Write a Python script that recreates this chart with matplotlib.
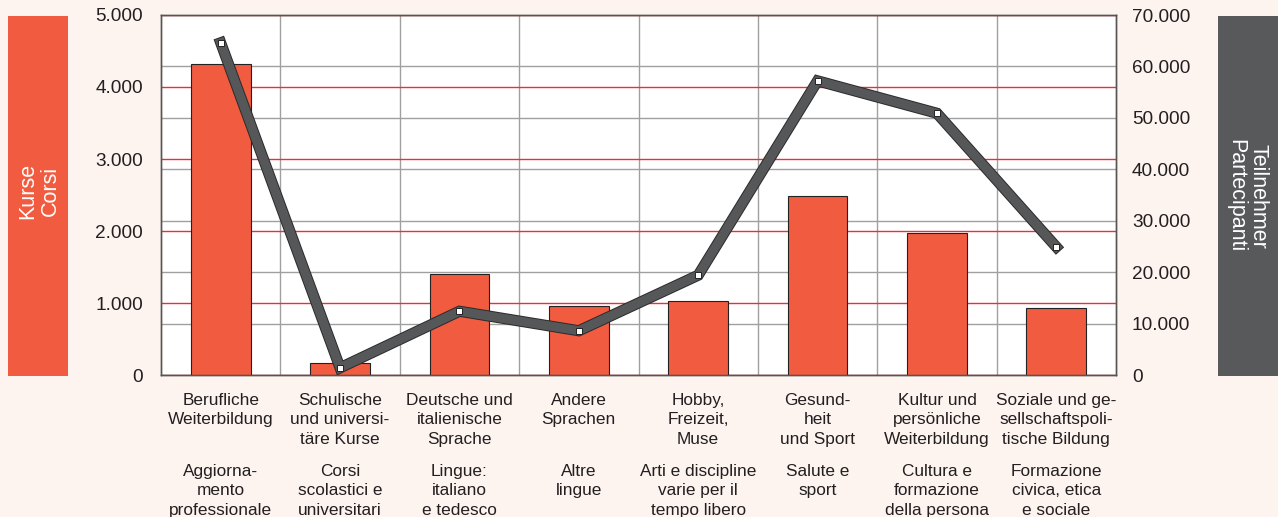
import matplotlib
matplotlib.use("Agg")
import matplotlib.pyplot as plt
import matplotlib.patheffects as pe
from matplotlib.patches import Rectangle
from matplotlib.ticker import MultipleLocator, FuncFormatter
import numpy as np

plt.rcParams["font.family"] = ["Liberation Sans", "DejaVu Sans"]

# ── data ────────────────────────────────────────────────────────────────────
labels_de = [
    "Berufliche\nWeiterbildung",
    "Schulische\nund universi-\ntäre Kurse",
    "Deutsche und\nitalienische\nSprache",
    "Andere\nSprachen",
    "Hobby,\nFreizeit,\nMuse",
    "Gesund-\nheit\nund Sport",
    "Kultur und\npersönliche\nWeiterbildung",
    "Soziale und ge-\nsellschaftspoli-\ntische Bildung",
]
labels_it = [
    "Aggiorna-\nmento\nprofessionale",
    "Corsi\nscolastici e\nuniversitari",
    "Lingue:\nitaliano\ne tedesco",
    "Altre\nlingue",
    "Arti e discipline\nvarie per il\ntempo libero",
    "Salute e\nsport",
    "Cultura e\nformazione\ndella persona",
    "Formazione\ncivica, etica\ne sociale",
]
kurse = [4320, 170, 1400, 960, 1030, 2490, 1970, 930]
teilnehmer = [64600, 1400, 12400, 8600, 19400, 57200, 50900, 24900]

BG = "#FDF4F0"
RED = "#F15B40"
DARK = "#58595B"
TXT = "#231F20"

fig = plt.figure(figsize=(12.78, 5.17), dpi=100, facecolor=BG)
ax = fig.add_axes([161 / 1278, 142 / 517, 955 / 1278, 360 / 517])
ax2 = ax.twinx()

x = np.arange(len(kurse))

# ── bars (left axis) ───────────────────────────────────────────────────────
ax.bar(x, kurse, width=0.5, color=RED, edgecolor="#222222", lw=0.8, zorder=3)
ax.set_xlim(-0.5, len(kurse) - 0.5)
ax.set_ylim(0, 5000)
ax.yaxis.set_major_locator(MultipleLocator(1000))
# grey grid belongs to the right axis (10.000 steps of 70.000)
ax.yaxis.set_minor_locator(MultipleLocator(5000 / 7))
ax.set_xticks(x)
ax.set_xticks(x[:-1] + 0.5, minor=True)
ax.set_xticklabels([])
ax.grid(which="minor", color="#A0A0A0", lw=1.0, zorder=0)
ax.grid(which="major", axis="y", color="#E8303A", lw=1.0, zorder=1)
ax.tick_params(axis="both", which="both", length=0)
ax.tick_params(axis="y", pad=13, labelsize=13.7, colors=TXT)
fmt = FuncFormatter(lambda v, p: f"{v:,.0f}".replace(",", "."))
ax.yaxis.set_major_formatter(fmt)
ax.set_facecolor("white")

# ── line (right axis) ──────────────────────────────────────────────────────
ax2.plot(x, teilnehmer, color="#555759", lw=6.6, solid_joinstyle="miter",
         path_effects=[pe.Stroke(linewidth=8, foreground="#2A2A2A"), pe.Normal()],
         zorder=5)
ax2.plot(x, teilnehmer, ls="none", marker="s", markersize=4.5,
         markerfacecolor="white", markeredgecolor="#222222",
         markeredgewidth=0.7, zorder=6)
ax2.set_ylim(0, 70000)
ax2.yaxis.set_major_locator(MultipleLocator(10000))
ax2.yaxis.set_major_formatter(fmt)
ax2.tick_params(axis="y", length=0, pad=11.5, labelsize=13.7, colors=TXT)

for a in (ax, ax2):
    for s in a.spines.values():
        s.set_color("#555555")
        s.set_linewidth(1.0)

# ── category labels ────────────────────────────────────────────────────────
for i in x:
    ax.text(i, -0.05, labels_de[i], transform=ax.get_xaxis_transform(),
            ha="center", va="top", fontsize=12.4, color=TXT,
            linespacing=1.36)
    ax.text(i, -0.247, labels_it[i], transform=ax.get_xaxis_transform(),
            ha="center", va="top", fontsize=12.4, color=TXT,
            linespacing=1.36)

# ── side panels ────────────────────────────────────────────────────────────
fig.add_artist(Rectangle((8 / 1278, 141 / 517), 60 / 1278, 360 / 517,
                         transform=fig.transFigure, color=RED, lw=0))
fig.text(39 / 1278, 326 / 517, "Kurse\nCorsi", rotation=90, color="white",
         ha="center", va="center", fontsize=15.5, linespacing=1.12)
fig.add_artist(Rectangle((1218 / 1278, 141 / 517), 60 / 1278, 360 / 517,
                         transform=fig.transFigure, color=DARK, lw=0))
fig.text(1247 / 1278, 321 / 517, "Teilnehmer\nPartecipanti", rotation=270,
         color="white", ha="center", va="center", fontsize=15.5,
         linespacing=1.12)

fig.savefig("out.png", dpi=100, facecolor=BG)
